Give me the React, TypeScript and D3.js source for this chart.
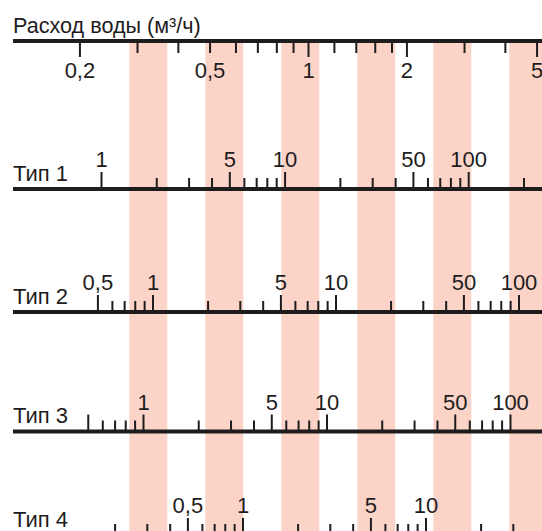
import React from 'react';
import * as d3 from 'd3';

// top scale: water flow, m3/h
const flowTicks = [0.2, 0.3, 0.4, 0.5, 0.6, 0.7, 0.8, 0.9, 1, 1.2, 1.4, 1.6, 1.8, 2, 3, 4, 5];
const flowMajor = [0.2, 1, 2, 5];
const flowLabels = [0.2, 0.5, 1, 2, 5];

// meter types
const typeNames = ['Тип 1', 'Тип 2', 'Тип 3', 'Тип 4'];

const type1Ticks = [1, 2, 3, 4, 5, 6, 7, 8, 9, 10, 20, 30, 40, 50, 60, 70, 80, 90, 100, 200];
const type1Major = [1, 5, 10, 50, 100];
const type1Labels = [1, 5, 10, 50, 100];

const type2Ticks = [0.5, 0.6, 0.7, 0.8, 0.9, 1, 2, 3, 4, 5, 6, 7, 8, 9, 10, 20, 30, 40, 50, 60, 70, 80, 90, 100];
const type2Major = [0.5, 1, 5, 10, 50, 100];
const type2Labels = [0.5, 1, 5, 10, 50, 100];

const type3Ticks = [0.5, 0.6, 0.7, 0.8, 0.9, 1, 2, 3, 4, 5, 6, 7, 8, 9, 10, 20, 30, 40, 50, 60, 70, 80, 90, 100];
const type3Major = [0.5, 1, 5, 10, 50, 100];
const type3Labels = [1, 5, 10, 50, 100];

const type4Ticks = [0.2, 0.3, 0.4, 0.5, 0.6, 0.7, 0.8, 0.9, 1, 2, 3, 4, 5, 6, 7, 8, 9, 10, 20, 30];
const type4Major = [0.5, 1, 5, 10];
const type4Labels = [0.5, 1, 5, 10];

const width = 542;
const height = 531;
const font = '"Liberation Sans", Arial, Helvetica, sans-serif';
const ink = '#1e1c1d';
const pink = '#fcd4c7';

const fmt = d3.formatLocale({ decimal: ',', thousands: ' ', grouping: [3], currency: ['', ''] }).format('~g');

// layout of each row: where 1 sits, px per decade, line y
const rows = [
  { ticks: type1Ticks, major: type1Major, labels: type1Labels, one: 101.5, decade: 183.6, y: 189 },
  { ticks: type2Ticks, major: type2Major, labels: type2Labels, one: 153, decade: 183, y: 312 },
  { ticks: type3Ticks, major: type3Major, labels: type3Labels, one: 143.5, decade: 183.5, y: 431.5 },
  { ticks: type4Ticks, major: type4Major, labels: type4Labels, one: 243, decade: 183, y: 535 },
];

export default function App() {
  const flow = d3.scaleLog().domain([1, 10]).range([308.5, 308.5 + 327]);
  const axisY = 41;

  // pink stripes
  const stripes = d3.range(6).map(i => 129.3 + i * 76);

  return (
    <svg
      width={width}
      height={height}
      style={{ position: 'absolute', left: 0, top: 0, background: '#fff' }}
      fontFamily={font}
    >
      {stripes.map((x, i) => (
        <rect key={i} x={x} y={axisY} width={38} height={height} fill={pink} />
      ))}

      <text x={13} y={32.5} fontSize={21.6} fill={ink}>Расход воды (м³/ч)</text>
      <line x1={13} x2={width + 5} y1={axisY} y2={axisY} stroke={ink} strokeWidth={4} />
      {flowTicks.map(v => (
        <line key={v} x1={flow(v)} x2={flow(v)} y1={axisY}
          y2={axisY + (flowMajor.includes(v) ? 16 : 12)} stroke={ink} strokeWidth={2} />
      ))}
      {flowLabels.map(v => (
        <text key={v} x={flow(v)} y={78} fontSize={22} fill={ink} textAnchor="middle">{fmt(v)}</text>
      ))}

      {rows.map((r, i) => {
        const x = d3.scaleLog().domain([1, 10]).range([r.one, r.one + r.decade]);
        return (
          <g key={i}>
            <text x={13} y={r.y - 8.5} fontSize={22} fill={ink}>{typeNames[i]}</text>
            <line x1={13} x2={width + 5} y1={r.y} y2={r.y} stroke={ink} strokeWidth={4} />
            {r.ticks.map(v => (
              <line key={v} x1={x(v)} x2={x(v)} y1={r.y}
                y2={r.y - (r.major.includes(v) ? 17 : 11)} stroke={ink} strokeWidth={2} />
            ))}
            {r.labels.map(v => (
              <text key={v} x={x(v)} y={r.y - 22} fontSize={22} fill={ink} textAnchor="middle">{fmt(v)}</text>
            ))}
          </g>
        );
      })}
    </svg>
  );
}
